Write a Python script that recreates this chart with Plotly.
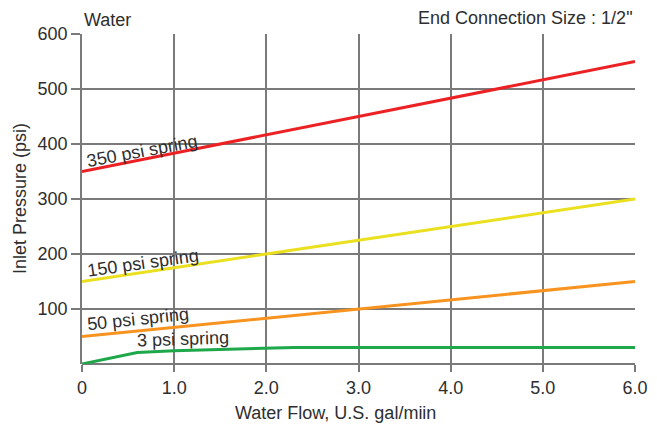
import plotly.graph_objects as go

# Data
flow_linear = [0, 6.0]
p350 = [350, 550]
p150 = [150, 300]
p50 = [50, 150]
flow_3 = [0, 0.6, 1.0, 2.3, 6.0]
p3 = [0, 21, 24, 30, 30]

x_ticks = [0, 1, 2, 3, 4, 5, 6]
x_tick_labels = ["0", "1.0", "2.0", "3.0", "4.0", "5.0", "6.0"]
y_ticks = [100, 200, 300, 400, 500, 600]
y_tick_labels = ["100", "200", "300", "400", "500", "600"]

series = [
    ("350 psi spring", flow_linear, p350, "#ec2124"),
    ("150 psi spring", flow_linear, p150, "#ebe01f"),
    ("50 psi spring", flow_linear, p50, "#f7931e"),
    ("3 psi spring", flow_3, p3, "#1ea84a"),
]

FONT = "Liberation Sans, Arial, sans-serif"
TXT = "#2e2e2e"
GRID = "#7a7a7a"

fig = go.Figure()
for name, xs, ys, col in series:
    fig.add_trace(go.Scatter(x=xs, y=ys, mode="lines", name=name,
                             line=dict(color=col, width=3), showlegend=False,
                             cliponaxis=False))

# Line labels (rotated along lines)
labels = [
    ("350 psi spring", 0.01, 347, -10.5),
    ("150 psi spring", 0.02, 147, -8),
    ("50 psi spring", 0.02, 50, -6),
    ("3 psi spring", 0.57, 20, -2),
]
for text, x, y, ang in labels:
    fig.add_annotation(x=x, y=y, text=text, showarrow=False, xanchor="left",
                       yanchor="bottom", textangle=ang,
                       font=dict(family=FONT, size=18, color=TXT))

fig.add_annotation(xref="paper", yref="paper", x=0, y=1.042, text="Water",
                   showarrow=False, xanchor="left", yanchor="middle",
                   font=dict(family=FONT, size=18, color=TXT))
fig.add_annotation(xref="paper", yref="paper", x=1.0, y=1.048,
                   text="End Connection Size : 1/2\"",
                   showarrow=False, xanchor="right", yanchor="middle",
                   font=dict(family=FONT, size=18, color=TXT))
fig.add_annotation(xref="paper", yref="paper", x=0.459, y=-0.148,
                   text="Water Flow, U.S. gal/miin",
                   showarrow=False, xanchor="center", yanchor="middle",
                   font=dict(family=FONT, size=18, color=TXT))
fig.add_annotation(xref="paper", yref="paper", x=-0.112, y=0.5,
                   text="Inlet Pressure (psi)", textangle=-90,
                   showarrow=False, xanchor="center", yanchor="middle",
                   font=dict(family=FONT, size=18, color=TXT))

fig.update_xaxes(range=[0, 6], tickvals=x_ticks, ticktext=x_tick_labels,
                 showgrid=True, gridcolor=GRID, gridwidth=1.5,
                 zeroline=False, showline=False,
                 ticks="outside", ticklen=7, tickcolor=GRID, tickwidth=1.5,
                 tickfont=dict(family=FONT, size=18, color=TXT))
fig.update_yaxes(range=[0, 600], tickvals=y_ticks, ticktext=y_tick_labels,
                 showgrid=True, gridcolor=GRID, gridwidth=1.5,
                 zeroline=True, zerolinecolor=GRID, zerolinewidth=1.5,
                 showline=True, linecolor=GRID, linewidth=1.5,
                 ticks="outside", ticklen=9, tickcolor=GRID, tickwidth=1.5,
                 tickfont=dict(family=FONT, size=18, color=TXT))

fig.update_layout(width=657, height=425,
                  margin=dict(l=82, r=22, t=34, b=61, autoexpand=False),
                  paper_bgcolor="white", plot_bgcolor="white")

fig.write_html("out.html", config={"displayModeBar": False},
               post_script="document.body.style.margin='0';document.body.style.overflow='hidden';")
